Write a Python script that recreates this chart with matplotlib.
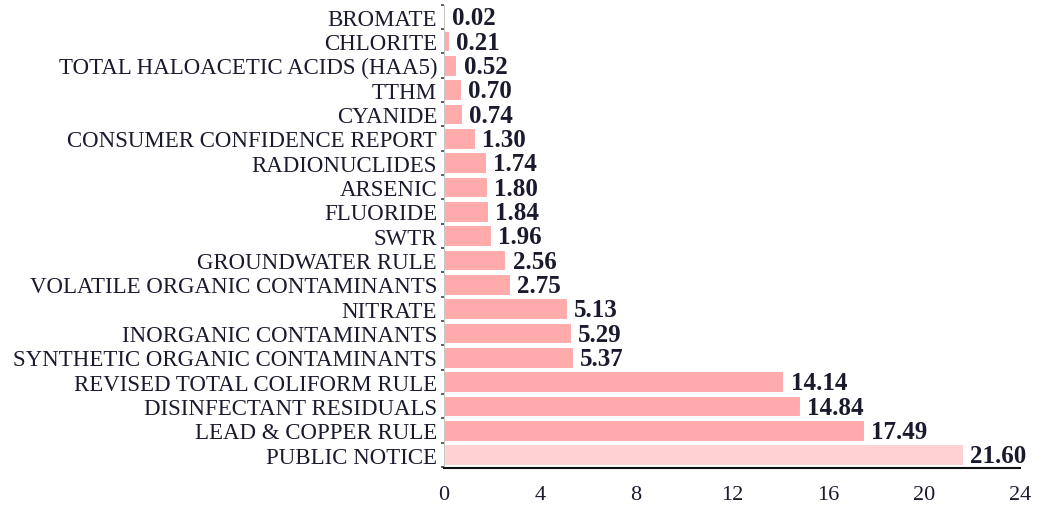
import matplotlib
matplotlib.use("Agg")
import matplotlib.pyplot as plt
import numpy as np

categories = ["BROMATE", "CHLORITE", "TOTAL HALOACETIC ACIDS (HAA5)", "TTHM", "CYANIDE",
              "CONSUMER CONFIDENCE REPORT", "RADIONUCLIDES", "ARSENIC", "FLUORIDE", "SWTR",
              "GROUNDWATER RULE", "VOLATILE ORGANIC CONTAMINANTS", "NITRATE",
              "INORGANIC CONTAMINANTS", "SYNTHETIC ORGANIC CONTAMINANTS",
              "REVISED TOTAL COLIFORM RULE", "DISINFECTANT RESIDUALS", "LEAD & COPPER RULE",
              "PUBLIC NOTICE"]
values = [0.02, 0.21, 0.52, 0.70, 0.74, 1.30, 1.74, 1.80, 1.84, 1.96, 2.56, 2.75,
          5.13, 5.29, 5.37, 14.14, 14.84, 17.49, 21.60]
xticks = [0, 4, 8, 12, 16, 20, 24]

plt.rcParams['font.family'] = ['Liberation Serif', 'DejaVu Serif']

fig = plt.figure(figsize=(10.41, 5.06), dpi=100)
ax = fig.add_axes([0.4265, 0.073, 0.5535, 0.916])

y = np.arange(len(categories))
colors = ['#ffaaab'] * (len(categories) - 1) + ['#ffd1d1']
ax.barh(y, values, height=0.85, color=colors, edgecolor='white', linewidth=0.8)

for yi, v in zip(y, values):
    ax.text(v + 0.3, yi + 0.05, f"{v:.2f}", va='center', ha='left', fontsize=18,
            fontweight='bold', color='#1a1a2e')

ax.set_ylim(len(categories) - 0.5 + 0.05, -0.5)
ax.set_xlim(0, 24)
ax.set_xticks(xticks)
ax.set_xticklabels([str(t) for t in xticks], fontsize=16, color='#1a1a2e')
ax.set_yticks(y)
ax.set_yticklabels(categories, fontsize=16.5, color='#1a1a2e')
ax.tick_params(axis='y', length=0, pad=5)
ax.tick_params(axis='x', length=0, pad=12)
ax.set_yticks(np.arange(-0.5, len(categories), 1), minor=True)
ax.tick_params(axis='y', which='minor', length=2, width=1.2, color='#444444')

for s in ['top', 'right']:
    ax.spines[s].set_visible(False)
ax.spines['left'].set_color('#bbbbbb')
ax.spines['left'].set_linewidth(0.6)
ax.spines['bottom'].set_color('#111111')
ax.spines['bottom'].set_linewidth(1.5)

fig.savefig("out.png", dpi=100)
